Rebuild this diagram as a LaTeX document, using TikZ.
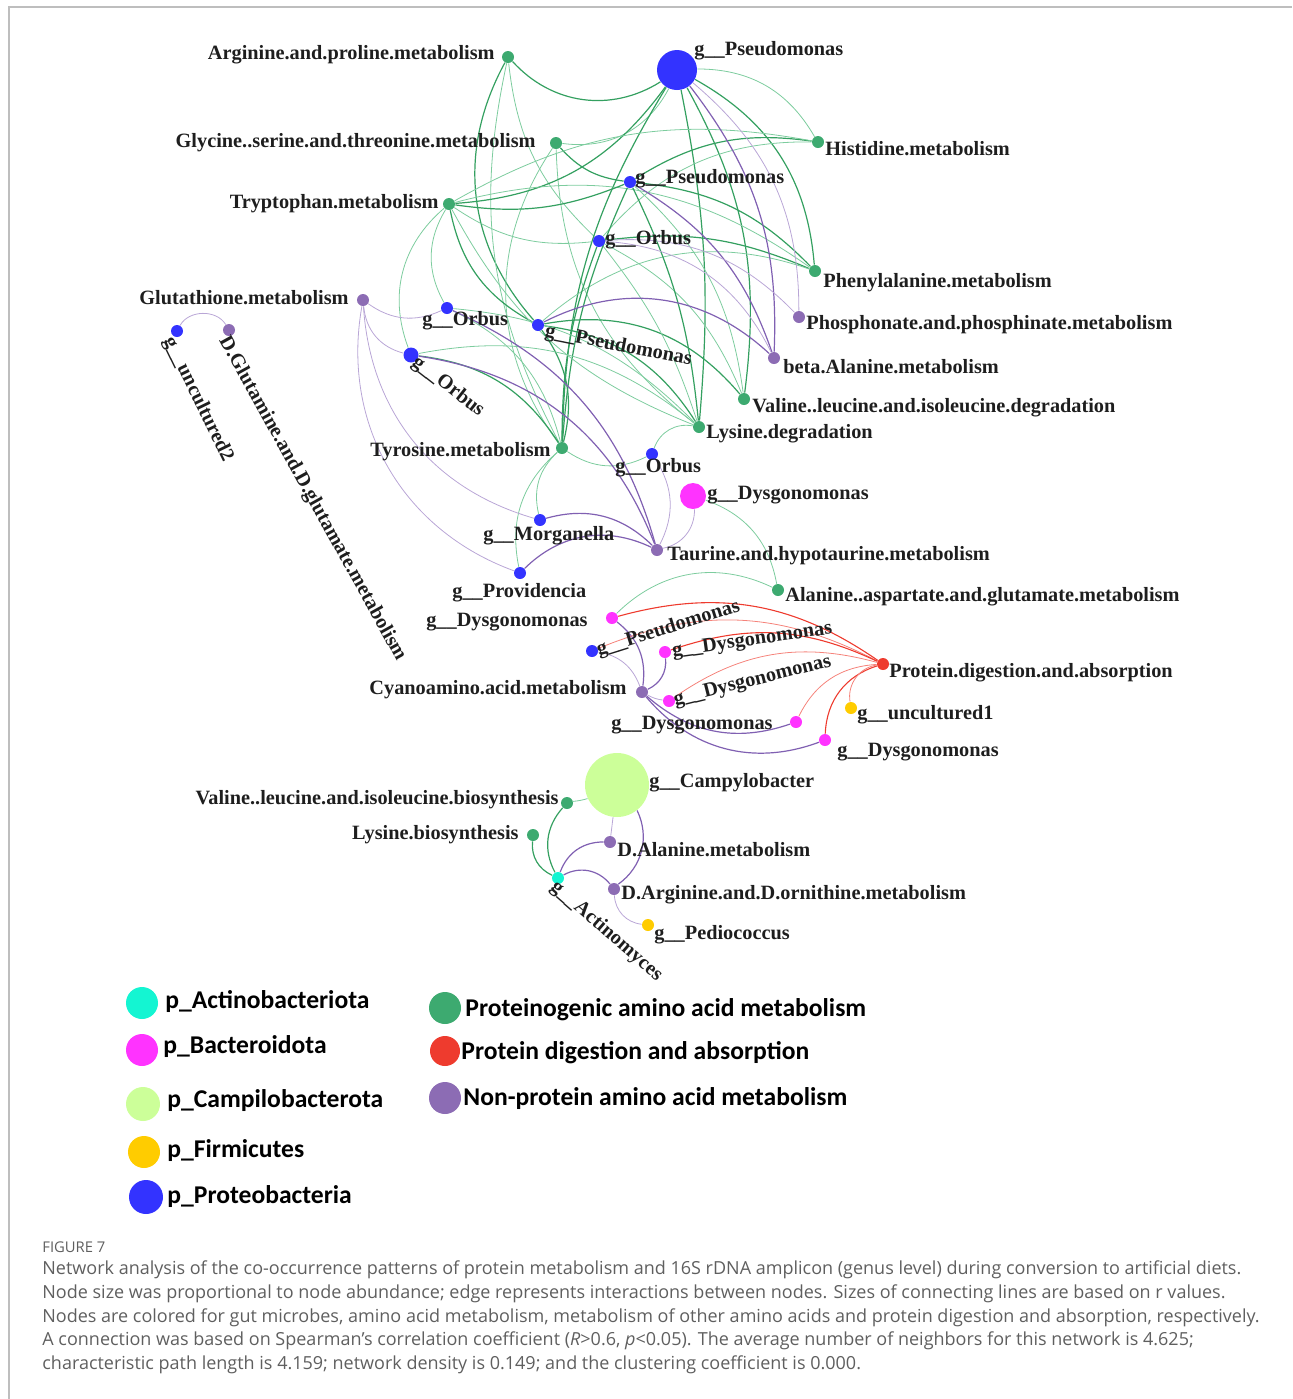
\documentclass[tikz,border=0pt]{standalone}
\usepackage{fontspec}
\setmainfont{Liberation Serif}
\newfontfamily\legfont{Carlito}
\newfontfamily\capfont{Open Sans}
\usetikzlibrary{backgrounds}
\definecolor{cG}{RGB}{61,170,112}
\definecolor{cGe}{RGB}{52,160,96}
\definecolor{cGl}{RGB}{125,204,158}
\definecolor{cP}{RGB}{140,108,180}
\definecolor{cPe}{RGB}{128,96,178}
\definecolor{cPl}{RGB}{185,166,214}
\definecolor{cB}{RGB}{51,51,255}
\definecolor{cM}{RGB}{255,51,255}
\definecolor{cR}{RGB}{238,59,46}
\definecolor{cRl}{RGB}{245,130,122}
\definecolor{cY}{RGB}{255,204,0}
\definecolor{cC}{RGB}{20,245,210}
\definecolor{cLG}{RGB}{204,255,153}
\definecolor{cT}{RGB}{30,30,30}
\definecolor{cCap}{RGB}{95,95,95}
\definecolor{cFrame}{RGB}{190,190,190}
\begin{document}
\begin{tikzpicture}[x=0.5pt,y=-0.5pt,
  nd/.style={circle, inner sep=0pt, minimum size=6pt},
  gN/.style={nd, fill=cG}, pN/.style={nd, fill=cP}, bN/.style={nd, fill=cB},
  mN/.style={nd, fill=cM}, rN/.style={nd, fill=cR}, yN/.style={nd, fill=cY},
  lbl/.style={font=\bfseries\fontsize{10.15}{12}\selectfont, inner sep=0pt, text=cT},
  gT/.style={draw=cGe, line width=0.6pt}, gt/.style={draw=cGl, line width=0.4pt},
  pT/.style={draw=cPe, line width=0.6pt}, pt/.style={draw=cPl, line width=0.4pt},
  rT/.style={draw=cR, line width=0.55pt}, rt/.style={draw=cRl, line width=0.4pt},
  legc/.style={circle, inner sep=0pt, minimum size=16pt},
  leg/.style={font=\legfont\bfseries\fontsize{12.8}{14}\selectfont, inner sep=0pt, anchor=west, text=black},
  captxt/.style={font=\capfont\fontsize{9}{10}\selectfont, inner sep=0pt, anchor=west, text=cCap}]
\useasboundingbox (0,0) rectangle (1292,1399);
\coordinate (F1) at (9,1399); \coordinate (F2) at (9,7); \coordinate (F3) at (1292,7);
\draw[cFrame, line width=0.6pt] (F1) -- (F2) -- (F3);

% nodes
\node[gN] (Arg) at (508,57) {};
\node[bN, minimum size=20pt] (PsA) at (677,70) {};
\node[gN] (Gly) at (556,143) {};
\node[gN] (His) at (818,142) {};
\node[bN] (PsB) at (630,182) {};
\node[gN] (Trp) at (449,204) {};
\node[bN] (OrbA) at (599,241) {};
\node[gN] (Phe) at (815,271) {};
\node[pN] (Glut) at (363,300) {};
\node[pN] (Phos) at (799,317) {};
\node[bN] (OrbB) at (447,308) {};
\node[bN] (PsC) at (538,325) {};
\node[bN, minimum size=7.5pt] (OrbC) at (411,355) {};
\node[pN] (Beta) at (774,358) {};
\node[gN] (Val) at (744,399) {};
\node[gN] (Lys) at (699,427) {};
\node[gN] (Tyr) at (562,448) {};
\node[bN] (OrbD) at (652,454) {};
\node[mN, minimum size=13pt] (DysA) at (693,496) {};
\node[bN] (Morg) at (540,520) {};
\node[pN] (Taur) at (657,550) {};
\node[bN] (Prov) at (520,573) {};
\node[bN] (Unc2) at (177,331) {};
\node[pN] (DGlu) at (229,330) {};
\node[gN] (Ala) at (778,590) {};
\node[mN] (DysB) at (612,618) {};
\node[bN] (PsD) at (592,651) {};
\node[mN] (DysC) at (665,652) {};
\node[rN] (Prot) at (883,664) {};
\node[pN] (Cyano) at (642,692) {};
\node[mN] (DysD) at (669,701) {};
\node[yN] (Unc1) at (851,708) {};
\node[mN] (DysE) at (796,722) {};
\node[mN] (DysF) at (825,740) {};
\node[nd, fill=cLG, minimum size=32pt] (Camp) at (617,785) {};
\node[gN] (ValB) at (567,803) {};
\node[gN] (LysB) at (533,835) {};
\node[pN] (DAla) at (610,842) {};
\node[nd, fill=cC] (Act) at (558,878) {};
\node[pN] (DArg) at (614,889) {};
\node[yN] (Pedio) at (648,925) {};

% edges
\begin{scope}[on background layer]
\draw[gT] (Arg) to[bend right=40] (PsA);
\draw[gt] (Arg) to[bend right=20] (OrbA);
\draw[gT] (Arg) to[bend right=35] (PsC);
\draw[gt] (Arg) to[bend right=20] (Tyr);
\draw[gt] (Gly) to[bend right=35] (PsA);
\draw[gT] (Gly) to[bend right=20] (PsB);
\draw[gt] (Gly) to[bend right=35] (Tyr);
\draw[gt] (Gly) to[bend right=25] (Lys);
\draw[gt] (PsA) to[bend left=30] (His);
\draw[gT] (PsA) to[bend left=28] (Phe);
\draw[gT] (PsA) to[bend left=18] (Val);
\draw[gT] (PsA) to[bend left=8] (Lys);
\draw[gT] (PsA) to[bend right=15] (Tyr);
\draw[gT] (Trp) to[bend right=25] (PsA);
\draw[gT] (His) to[bend right=20] (PsB);
\draw[gt] (His) to[bend right=25] (OrbA);
\draw[gt] (His) to[bend right=20] (Trp);
\draw[gT] (Phe) to[bend right=20] (PsB);
\draw[gT] (Phe) to[bend right=15] (OrbA);
\draw[gt] (Phe) to[bend right=25] (Trp);
\draw[gt] (Phe) to[bend right=30] (PsC);
\draw[gt] (PsB) to[bend left=20] (Val);
\draw[gt] (OrbA) to[bend left=20] (Val);
\draw[gT] (PsC) to[bend left=30] (Val);
\draw[gT] (PsB) to[bend left=10] (Lys);
\draw[gt] (OrbA) to[bend left=10] (Lys);
\draw[gT] (PsC) to[bend left=25] (Lys);
\draw[gT] (PsB) to[bend right=10] (Tyr);
\draw[gT] (OrbA) to[bend right=10] (Tyr);
\draw[gT] (Trp) to[bend right=25] (PsC);
\draw[gt] (Trp) to[bend right=30] (OrbB);
\draw[gt] (Trp) to[bend right=35] (OrbC);
\draw[gt] (Trp) to[bend right=20] (OrbA);
\draw[gT] (Trp) to[bend right=15] (PsB);
\draw[gt] (Trp) to[bend right=20] (Lys);
\draw[gT] (PsC) to[bend left=25] (Tyr);
\draw[gt] (OrbB) to[bend left=25] (Tyr);
\draw[gT] (OrbC) to[bend left=25] (Tyr);
\draw[gt] (OrbB) to[bend left=20] (Lys);
\draw[gt] (OrbC) to[bend left=25] (Lys);
\draw[gt] (Tyr) to[bend right=30] (OrbD);
\draw[gt] (OrbD) to[bend left=40] (Lys);
\draw[gt] (Tyr) to[bend right=30] (Morg);
\draw[gt] (Tyr) to[bend right=30] (Prov);
\draw[gt] (DysA) to[bend left=30] (Ala);
\draw[gt] (DysB) to[bend left=35] (Ala);
\draw[gt] (Camp) to[bend left=5] (ValB);
\draw[gT] (Act) to[bend left=35] (ValB);
\draw[gT] (LysB) to[bend right=35] (Act);
% purple
\draw[pT] (PsA) to[bend left=20] (Beta);
\draw[pt] (PsA) to[bend left=25] (Phos);
\draw[pT] (PsB) to[bend left=20] (Beta);
\draw[pt] (OrbA) to[bend left=30] (Beta);
\draw[pt] (OrbA) to[bend left=25] (Phos);
\draw[pT] (PsC) to[bend left=35] (Beta);
\draw[pt] (Glut) to[bend right=30] (OrbB);
\draw[pt] (Glut) to[bend right=35] (OrbC);
\draw[pt] (Glut) to[bend right=35] (Morg);
\draw[pt] (Glut) to[bend right=40] (Prov);
\draw[pT] (OrbB) to[bend left=25] (Taur);
\draw[pT] (OrbC) to[bend left=30] (Taur);
\draw[pt] (OrbD) to[bend left=30] (Taur);
\draw[pt] (DysA) to[bend left=40] (Taur);
\draw[pT] (Morg) to[bend left=30] (Taur);
\draw[pT] (Prov) to[bend left=35] (Taur);
\draw[pt] (Unc2) to[bend left=60] (DGlu);
\draw[pT] (DysB) to[bend left=30] (Cyano);
\draw[pt] (PsD) to[bend left=30] (Cyano);
\draw[pT] (DysC) to[bend left=35] (Cyano);
\draw[pt] (Cyano) to[bend right=10] (DysD);
\draw[pT] (Cyano) to[bend right=30] (DysE);
\draw[pT] (Cyano) to[bend right=35] (DysF);
\draw[pt] (Camp) to (DAla);
\draw[pT] (Camp) to[bend left=40] (DArg);
\draw[pT] (Act) to[bend left=35] (DAla);
\draw[pT] (Act) to[bend left=40] (DArg);
\draw[pt] (DArg) to[bend right=40] (Pedio);
% red
\draw[rT] (DysB) to[bend left=25] (Prot);
\draw[rt] (PsD) to[bend left=25] (Prot);
\draw[rT] (DysC) to[bend left=22] (Prot);
\draw[rt] (DysD) to[bend left=25] (Prot);
\draw[rt] (DysE) to[bend left=30] (Prot);
\draw[rT] (DysF) to[bend left=35] (Prot);
\draw[rt] (Unc1) to[bend left=45] (Prot);
\end{scope}

% labels
\node[lbl, anchor=east] (lArg) at (495,55) {Arginine.and.proline.metabolism};
\node[lbl, anchor=west] (lPsA) at (694,51) {g\_\_Pseudomonas};
\node[lbl, anchor=east] (lGly) at (536,143) {Glycine..serine.and.threonine.metabolism};
\node[lbl, anchor=west] (lHis) at (825,149) {Histidine.metabolism};
\node[lbl, anchor=west] (lPsB) at (635,179) {g\_\_Pseudomonas};
\node[lbl, anchor=east] (lTrp) at (439,204) {Tryptophan.metabolism};
\node[lbl, anchor=west] (lOrbA) at (605,240) {g\_\_Orbus};
\node[lbl, anchor=west] (lPhe) at (823,283) {Phenylalanine.metabolism};
\node[lbl, anchor=east] (lGlut) at (349,298) {Glutathione.metabolism};
\node[lbl, anchor=west] (lPhos) at (806,325) {Phosphonate.and.phosphinate.metabolism};
\node[lbl, anchor=west] (lOrbB) at (422,321) {g\_\_Orbus};
\node[lbl, anchor=west, rotate=-11] (lPsC) at (545,332) {g\_\_Pseudomonas};
\node[lbl, anchor=west, rotate=-38] (lOrbC) at (414,360) {g\_\_Orbus};
\node[lbl, anchor=west] (lBeta) at (783,367) {beta.Alanine.metabolism};
\node[lbl, anchor=west] (lVal) at (752,408) {Valine..leucine.and.isoleucine.degradation};
\node[lbl, anchor=west] (lLys) at (706,434) {Lysine.degradation};
\node[lbl, anchor=east] (lTyr) at (551,452) {Tyrosine.metabolism};
\node[lbl, anchor=west] (lOrbD) at (615,468) {g\_\_Orbus};
\node[lbl, anchor=west] (lDysA) at (707,495) {g\_\_Dysgonomonas};
\node[lbl, anchor=west] (lMorg) at (483,536) {g\_\_Morganella};
\node[lbl, anchor=west] (lTaur) at (667,556) {Taurine.and.hypotaurine.metabolism};
\node[lbl, anchor=west] (lProv) at (452,593) {g\_\_Providencia};
\node[lbl, anchor=west, rotate=-64] (lUnc2) at (168,338) {g\_\_uncultured2};
\node[lbl, anchor=west, rotate=-61] (lDGlu) at (223,338) {D.Glutamine.and.D.glutamate.metabolism};
\node[lbl, anchor=west] (lAla) at (785,597) {Alanine..aspartate.and.glutamate.metabolism};
\node[lbl, anchor=east] (lDysB) at (588,622) {g\_\_Dysgonomonas};
\node[lbl, anchor=west, rotate=17.5] (lPsD) at (597,651) {g\_\_Pseudomonas};
\node[lbl, anchor=west, rotate=8] (lDysC) at (672,652) {g\_\_Dysgonomonas};
\node[lbl, anchor=west] (lProt) at (889,673) {Protein.digestion.and.absorption};
\node[lbl, anchor=east] (lCyano) at (627,690) {Cyanoamino.acid.metabolism};
\node[lbl, anchor=west, rotate=14] (lDysD) at (674,701) {g\_\_Dysgonomonas};
\node[lbl, anchor=west] (lUnc1) at (857,715) {g\_\_uncultured1};
\node[lbl, anchor=east] (lDysE) at (773,725) {g\_\_Dysgonomonas};
\node[lbl, anchor=west] (lDysF) at (837,752) {g\_\_Dysgonomonas};
\node[lbl, anchor=west] (lCamp) at (649,783) {g\_\_Campylobacter};
\node[lbl, anchor=east] (lValB) at (559,800) {Valine..leucine.and.isoleucine.biosynthesis};
\node[lbl, anchor=east] (lLysB) at (519,835) {Lysine.biosynthesis};
\node[lbl, anchor=west] (lDAla) at (617,850) {D.Alanine.metabolism};
\node[lbl, anchor=west, rotate=-41] (lAct) at (553,885) {g\_\_Actinomyces};
\node[lbl, anchor=west] (lDArg) at (621,895) {D.Arginine.and.D.ornithine.metabolism};
\node[lbl, anchor=west] (lPedio) at (654,935) {g\_\_Pediococcus};

% legend
\node[legc, fill=cC] (LgA) at (142,1003) {};
\node[leg] (LtA) at (165,1001) {p\_Actinobacteriota};
\node[legc, fill=cM] (LgB) at (142,1050) {};
\node[leg] (LtB) at (163,1047) {p\_Bacteroidota};
\node[legc, fill=cLG, minimum size=17pt] (LgC) at (143,1104) {};
\node[leg] (LtC) at (167,1101) {p\_Campilobacterota};
\node[legc, fill=cY] (LgD) at (144,1152) {};
\node[leg] (LtD) at (167,1151) {p\_Firmicutes};
\node[legc, fill=cB, minimum size=17pt] (LgE) at (146,1197) {};
\node[leg] (LtE) at (167,1197) {p\_Proteobacteria};
\node[legc, fill=cG] (LgF) at (445,1008) {};
\node[leg] (LtF) at (465,1010) {Proteinogenic amino acid metabolism};
\node[legc, fill=cR, minimum size=15pt] (LgG) at (445,1051) {};
\node[leg] (LtG) at (461,1053) {Protein digestion and absorption};
\node[legc, fill=cP] (LgH) at (445,1098) {};
\node[leg] (LtH) at (463,1099) {Non-protein amino acid metabolism};

% caption
\node[captxt, font=\capfont\fontsize{7.4}{8}\selectfont] (capT) at (42,1247) {FIGURE 7};
\node[captxt] (cap1) at (42,1270) {Network analysis of the co-occurrence patterns of protein metabolism and 16S rDNA amplicon (genus level) during conversion to artificial diets.};
\node[captxt] (cap2) at (42,1294) {Node size was proportional to node abundance; edge represents interactions between nodes. Sizes of connecting lines are based on r values.};
\node[captxt] (cap3) at (42,1318) {Nodes are colored for gut microbes, amino acid metabolism, metabolism of other amino acids and protein digestion and absorption, respectively.};
\node[captxt] (cap4) at (42,1341) {A connection was based on Spearman’s correlation coefficient (\textit{R}>0.6, \textit{p}<0.05). The average number of neighbors for this network is 4.625;};
\node[captxt] (cap5) at (42,1365) {characteristic path length is 4.159; network density is 0.149; and the clustering coefficient is 0.000.};
\end{tikzpicture}
\end{document}
